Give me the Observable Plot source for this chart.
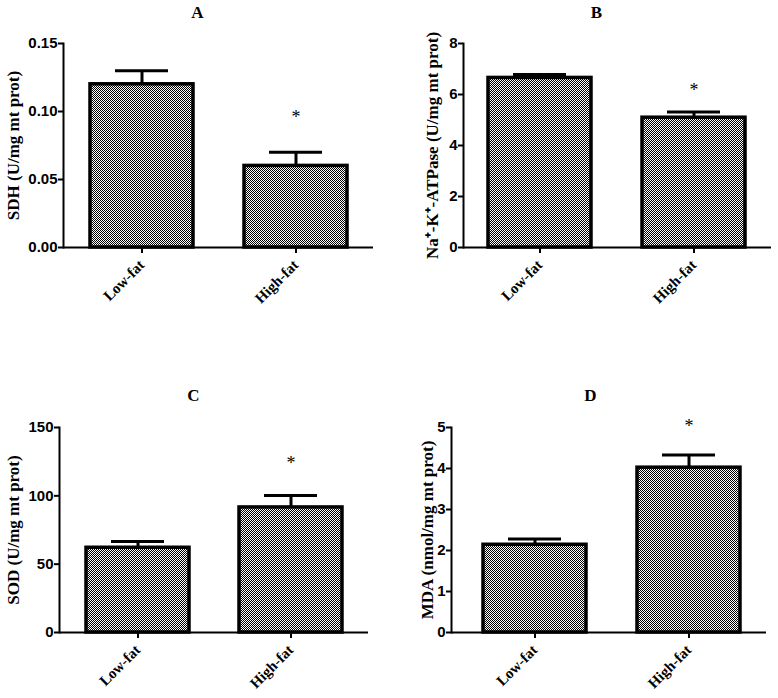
<!DOCTYPE html>
<html><head><meta charset="utf-8">
<script src="https://cdn.jsdelivr.net/npm/d3@7"></script>
<script src="https://cdn.jsdelivr.net/npm/@observablehq/plot@0.6"></script>
<style>
body{margin:0;background:#fff;}
#wrap{position:relative;width:778px;height:698px;overflow:hidden;}
#wrap > div{position:absolute;}
#wrap svg{overflow:visible;}
</style></head><body>
<svg width="0" height="0" style="position:absolute"><defs>
<pattern id="chk" width="2" height="2" patternUnits="userSpaceOnUse">
<rect width="2" height="2" fill="#fff"/><rect width="1" height="1" fill="#000"/><rect x="1" y="1" width="1" height="1" fill="#000"/>
</pattern></defs></svg>
<div id="wrap"></div>
<script>
// ---- data ----
const groups = ["Low-fat", "High-fat"];

const titles = ["A", "B", "C", "D"];
const yLabels = ["SDH (U/mg mt prot)", "Na\u207A-K\u207A-ATPase (U/mg mt prot)", "SOD (U/mg mt prot)", "MDA (nmol/mg mt prot)"];

const sdhMean = [0.120, 0.060];
const sdhErr = [0.010, 0.010];
const sdhStar = [null, 0.099];
const sdhTicks = [0, 0.05, 0.10, 0.15];

const atpMean = [6.65, 5.09];
const atpErr = [0.13, 0.22];
const atpStar = [null, 6.33];
const atpTicks = [0, 2, 4, 6, 8];

const sodMean = [62, 91.5];
const sodErr = [4.6, 8.7];
const sodStar = [null, 127];
const sodTicks = [0, 50, 100, 150];

const mdaMean = [2.14, 4.02];
const mdaErr = [0.14, 0.31];
const mdaStar = [null, 5.13];
const mdaTicks = [0, 1, 2, 3, 4, 5];

// ---- drawing ----
const SERIF = "'Liberation Serif','Times New Roman',serif";
const SANS = "'Liberation Sans',Arial,sans-serif";
const W = 389, H = 349;

function panel(c) {
  const rows = groups.map((g, i) => ({g, m: c.mean[i], hi: c.mean[i] + c.err[i]}));
  const stars = groups.map((g, i) => ({g, s: c.star[i]})).filter(d => d.s != null);
  const frameCx = (c.mL + (W - c.mR)) / 2;
  const svg = Plot.plot({
    width: W, height: H,
    marginLeft: c.mL, marginRight: c.mR, marginTop: c.mT, marginBottom: H - c.bottom,
    style: {background: "transparent", color: "#000"},
    x: {domain: groups, paddingInner: c.pIn, paddingOuter: c.pOut, align: c.align},
    y: {domain: [c.ticks[0], c.ticks[c.ticks.length - 1]]},
    marks: [
      Plot.barY(rows, {x: "g", y: "m", fill: "url(#chk)", stroke: "#000", strokeWidth: 3.5}),
      Plot.ruleX(rows, {x: "g", y1: "m", y2: "hi", stroke: "#000", strokeWidth: 3}),
      Plot.tickY(rows, {x: "g", y: "hi", stroke: "#000", strokeWidth: 3, insetLeft: 25, insetRight: 25}),
      Plot.ruleY([c.ticks[0]], {stroke: "#000", strokeWidth: 2}),
      Plot.frame({anchor: "left", stroke: "#000", strokeWidth: 2}),
      Plot.axisY({ticks: c.ticks, tickFormat: c.fmt, tickSize: 5, tickPadding: 1, strokeWidth: 2,
        fontFamily: SANS, fontWeight: "bold", fontSize: 15, label: null}),
      Plot.axisX({tickSize: 6, tickPadding: 9, tickRotate: -45, strokeWidth: 2,
        fontFamily: SERIF, fontWeight: "bold", fontSize: 15, label: null}),
      Plot.text(stars, {x: "g", y: "s", text: () => "*", fontFamily: SERIF, fontSize: 18, dy: 4}),
      Plot.text([c.title], {frameAnchor: "top", text: d => d, dx: c.titleX - frameCx, dy: c.titleY - c.mT,
        textAnchor: "middle", lineAnchor: "middle", fontFamily: SERIF, fontWeight: "bold", fontSize: 17}),
      Plot.text([c.label], {frameAnchor: "left", text: d => d, rotate: -90, dx: c.labelX - c.mL,
        textAnchor: "middle", lineAnchor: "middle", fontFamily: SERIF, fontWeight: "bold", fontSize: 17})
    ]
  });
  const div = document.createElement("div");
  div.style.left = c.left + "px";
  div.style.top = c.top + "px";
  div.appendChild(svg);
  document.getElementById("wrap").appendChild(div);
}

const f2 = d3.format(".2f");
const f0 = d3.format("d");

panel({title: titles[0], label: yLabels[0], mean: sdhMean, err: sdhErr, star: sdhStar, ticks: sdhTicks, fmt: f2,
  left: 0, top: 0, mL: 63, mR: 16, mT: 43, bottom: 247, pIn: 0.333, pOut: 0.17, align: 0.5,
  titleX: 197, titleY: 12, labelX: 13});
panel({title: titles[1], label: yLabels[1], mean: atpMean, err: atpErr, star: atpStar, ticks: atpTicks, fmt: f0,
  left: 389, top: 0, mL: 74, mR: 7, mT: 43, bottom: 247, pIn: 0.331, pOut: 0.165, align: 0.5,
  titleX: 207, titleY: 12, labelX: 43});
panel({title: titles[2], label: yLabels[2], mean: sodMean, err: sodErr, star: sodStar, ticks: sodTicks, fmt: f0,
  left: 0, top: 349, mL: 59, mR: 21, mT: 78, bottom: 283, pIn: 0.329, pOut: 0.171, align: 0.5,
  titleX: 193, titleY: 46, labelX: 13});
panel({title: titles[3], label: yLabels[3], mean: mdaMean, err: mdaErr, star: mdaStar, ticks: mdaTicks, fmt: f0,
  left: 389, top: 349, mL: 62, mR: 12, mT: 78, bottom: 283, pIn: 0.331, pOut: 0.188, align: 0.55,
  titleX: 201, titleY: 46, labelX: 38});
</script>
</body></html>
